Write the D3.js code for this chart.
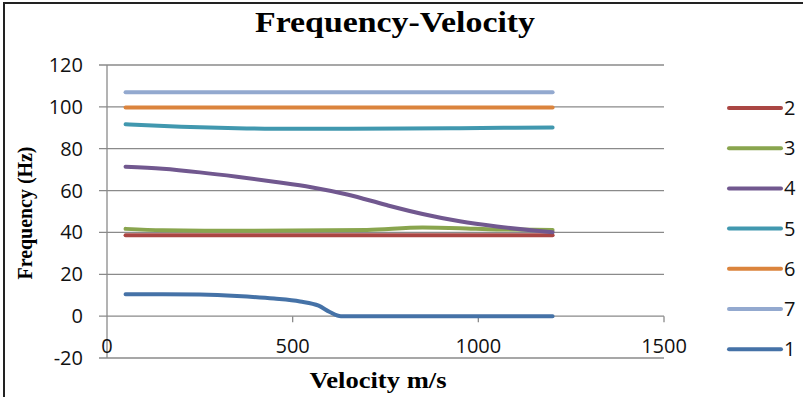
<!DOCTYPE html>
<html>
<head>
<meta charset="utf-8">
<script src="https://cdn.jsdelivr.net/npm/d3@7"></script>
<style>
  html, body { margin: 0; padding: 0; background: #fff; }
  svg { display: block; }
</style>
</head>
<body>
<div id="chart"></div>
<script>
// data (velocity m/s -> frequency Hz)
const seriesNames = ['2', '3', '4', '5', '6', '7', '1'];
const seriesColors = ['#AA4643', '#89A54E', '#71588F', '#4198AF', '#DB843D', '#93A9CF', '#4572A7'];

const s2 = [[50, 38.6], [1200, 38.6]];
const s3 = [[50, 41.7], [150, 41.0], [300, 40.8], [500, 40.9], [700, 41.2], [850, 42.3], [950, 42.0], [1050, 41.4], [1200, 41.2]];
const s4 = [[50, 71.4], [150, 70.4], [250, 68.7], [350, 66.6], [450, 64.2], [550, 61.6], [650, 58.0], [750, 53.2], [850, 48.8], [950, 45.3], [1050, 42.8], [1150, 40.9], [1200, 40.1]];
const s5 = [[50, 91.7], [200, 90.5], [350, 89.8], [500, 89.5], [650, 89.5], [800, 89.6], [950, 89.8], [1100, 90.0], [1200, 90.1]];
const s6 = [[50, 99.7], [1200, 99.7]];
const s7 = [[50, 107.0], [1200, 107.0]];
const s1 = [[50, 10.5], [150, 10.5], [250, 10.3], [350, 9.6], [450, 8.4], [520, 7.0], [570, 5.0], [600, 2.0], [630, 0], [700, 0], [900, 0], [1200, 0]];
const seriesData = [s2, s3, s4, s5, s6, s7, s1];

const xTicks = [0, 500, 1000, 1500];
const yTicks = [-20, 0, 20, 40, 60, 80, 100, 120];

const W = 803, H = 397;
const svg = d3.select('#chart').append('svg')
  .attr('width', W)
  .attr('height', H);

// frame
svg.append('rect')
  .attr('x', 4).attr('y', 3)
  .attr('width', W + 10).attr('height', H + 10)
  .attr('fill', 'none')
  .attr('stroke', '#222')
  .attr('stroke-width', 2);

const x = d3.scaleLinear().domain([0, 1500]).range([107, 664]);
const y = d3.scaleLinear().domain([-20, 120]).range([358, 65]);

const serif = '"Liberation Serif", "Times New Roman", serif';

// title
svg.append('text')
  .attr('x', 395).attr('y', 32)
  .attr('text-anchor', 'middle')
  .attr('textLength', 280)
  .attr('lengthAdjust', 'spacingAndGlyphs')
  .style('font-family', serif)
  .style('font-weight', 'bold')
  .style('font-size', '30px')
  .text('Frequency-Velocity');

// gridlines (they also act as left tick marks)
svg.append('g').selectAll('line')
  .data(yTicks)
  .enter().append('line')
  .attr('x1', x(0) - 8).attr('x2', x(1500))
  .attr('y1', d => y(d)).attr('y2', d => y(d))
  .attr('stroke', '#8a8a8a')
  .attr('stroke-width', 1.3);

// y axis line
svg.append('line')
  .attr('x1', x(0)).attr('x2', x(0))
  .attr('y1', y(120)).attr('y2', y(-20))
  .attr('stroke', '#8a8a8a')
  .attr('stroke-width', 1.3);

// x ticks on the zero line
svg.append('g').selectAll('line')
  .data(xTicks.filter(d => d > 0))
  .enter().append('line')
  .attr('x1', d => x(d)).attr('x2', d => x(d))
  .attr('y1', y(0)).attr('y2', y(0) + 6)
  .attr('stroke', '#8a8a8a')
  .attr('stroke-width', 1.3);

const tickFont = '"Open Sans", "Liberation Sans", sans-serif';

// y tick labels
svg.append('g').selectAll('text')
  .data(yTicks)
  .enter().append('text')
  .attr('x', 83).attr('y', d => y(d))
  .attr('dy', '0.35em')
  .attr('text-anchor', 'end')
  .style('font-family', tickFont)
  .style('font-size', '20px')
  .style('fill', '#111')
  .text(d => d);

// x tick labels
svg.append('g').selectAll('text')
  .data(xTicks)
  .enter().append('text')
  .attr('x', d => x(d)).attr('y', 353)
  .attr('text-anchor', 'middle')
  .style('font-family', tickFont)
  .style('font-size', '20px')
  .style('fill', '#111')
  .text(d => d);

// axis titles
svg.append('text')
  .attr('x', 378).attr('y', 388)
  .attr('text-anchor', 'middle')
  .attr('textLength', 137)
  .attr('lengthAdjust', 'spacingAndGlyphs')
  .style('font-family', serif)
  .style('font-weight', 'bold')
  .style('font-size', '23px')
  .text('Velocity m/s');

svg.append('text')
  .attr('transform', 'translate(32,213) rotate(-90)')
  .attr('text-anchor', 'middle')
  .attr('textLength', 133)
  .attr('lengthAdjust', 'spacingAndGlyphs')
  .style('font-family', serif)
  .style('font-weight', 'bold')
  .style('font-size', '21px')
  .text('Frequency (Hz)');

// series lines
const line = d3.line()
  .x(d => x(d[0]))
  .y(d => y(d[1]))
  .curve(d3.curveMonotoneX);

svg.append('g').selectAll('path')
  .data(seriesData)
  .enter().append('path')
  .attr('d', d => line(d))
  .attr('fill', 'none')
  .attr('stroke', (d, i) => seriesColors[i])
  .attr('stroke-width', 4)
  .attr('stroke-linecap', 'round')
  .attr('stroke-linejoin', 'round');

// legend
const legend = svg.append('g').selectAll('g')
  .data(seriesNames)
  .enter().append('g')
  .attr('transform', (d, i) => 'translate(0,' + (108 + i * 40.2) + ')');

legend.append('line')
  .attr('x1', 729).attr('x2', 781)
  .attr('y1', 0).attr('y2', 0)
  .attr('stroke', (d, i) => seriesColors[i])
  .attr('stroke-width', 4)
  .attr('stroke-linecap', 'round');

legend.append('text')
  .attr('x', 784).attr('y', 0)
  .attr('dy', '0.35em')
  .style('font-family', tickFont)
  .style('font-size', '20px')
  .style('fill', '#111')
  .text(d => d);
</script>
</body>
</html>
